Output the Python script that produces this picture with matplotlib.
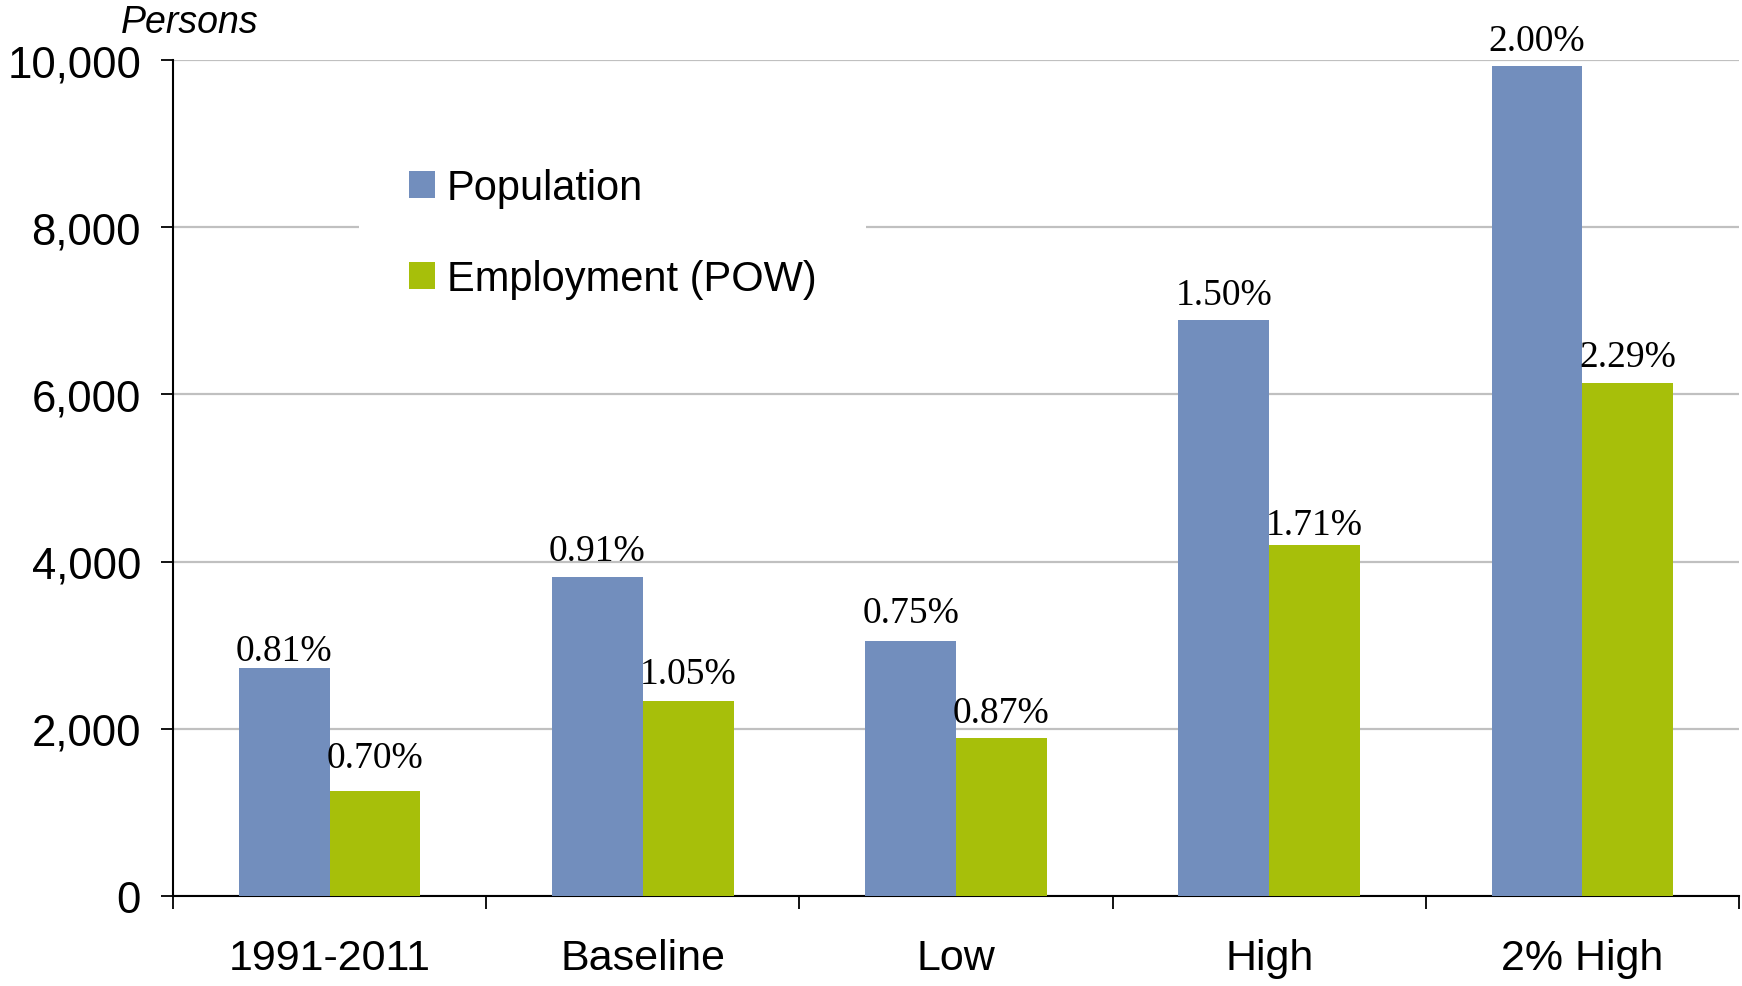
import matplotlib
matplotlib.use("Agg")
import matplotlib.pyplot as plt
import numpy as np

categories = ["1991-2011", "Baseline", "Low", "High", "2% High"]
population = [2725, 3820, 3045, 6890, 9925]
employment = [1255, 2330, 1888, 4202, 6135]
pop_labels = ["0.81%", "0.91%", "0.75%", "1.50%", "2.00%"]
emp_labels = ["0.70%", "1.05%", "0.87%", "1.71%", "2.29%"]
yticks = [0, 2000, 4000, 6000, 8000, 10000]

# label offsets above bars (points), as placed in the original
pop_label_offsets = [0.0, 6.5, 7.9, 5.8, 5.8]
emp_label_offsets = [11.5, 7.2, 5.8, 1.6, 6.8]

blue = "#728EBD"
green = "#A7BF0A"

W, H = 1742, 987
fig = plt.figure(figsize=(W / 100, H / 100), dpi=100)
ax = fig.add_axes([173 / W, 1 - 897 / H, (1739 - 173) / W, (897 - 61) / H])

x = np.arange(len(categories))
bw = 0.29
b1 = ax.bar(x - bw / 2, population, bw, color=blue, label="Population", zorder=3)
b2 = ax.bar(x + bw / 2, employment, bw, color=green, label="Employment (POW)", zorder=3)

for bars, labels, offs in ((b1, pop_labels, pop_label_offsets),
                           (b2, emp_labels, emp_label_offsets)):
    for rect, lab, off in zip(bars, labels, offs):
        ax.annotate(lab, (rect.get_x() + rect.get_width() / 2, rect.get_height()),
                    xytext=(0, off), textcoords="offset points", ha="center", va="bottom",
                    family="Liberation Serif", fontsize=27, clip_on=False, zorder=4)

ax.set_xlim(-0.5, len(categories) - 0.5)
ax.set_ylim(0, 10000)
ax.set_yticks(yticks)
ax.set_yticklabels([f"{v:,}" for v in yticks], family="Liberation Sans", fontsize=31.5)
ax.set_xticks(x)
ax.set_xticklabels(categories, family="Liberation Sans", fontsize=31)
ax.set_xticks(np.arange(-0.5, len(categories)), minor=True)
ax.tick_params(axis="x", which="major", length=0, pad=30)
ax.tick_params(axis="x", which="minor", length=9, width=1.3, direction="out")
ax.tick_params(axis="y", length=9, width=1.3, direction="out", pad=14)

for s in ["top", "right"]:
    ax.spines[s].set_visible(False)
for s in ["left", "bottom"]:
    ax.spines[s].set_linewidth(1.5)
    ax.spines[s].set_color("black")

ax.yaxis.grid(True, color="#C0C0C0", linewidth=1.6, zorder=0)
ax.set_axisbelow(True)

leg = ax.legend(loc="upper left", bbox_to_anchor=(359 / W, 1 - 119 / H),
                bbox_transform=fig.transFigure, borderaxespad=0,
                prop={"family": "Liberation Sans", "size": 30},
                frameon=True, facecolor="white", edgecolor="none", framealpha=1,
                handlelength=0.62, handleheight=0.62, handletextpad=0.28,
                labelspacing=1.22, borderpad=1.2, fancybox=False)
leg.set_zorder(5)

fig.text(190 / W, 1 - 23 / H, "Persons", ha="center", va="center",
         family="Liberation Sans", style="italic", fontsize=27)

fig.savefig("out.png", dpi=100)
